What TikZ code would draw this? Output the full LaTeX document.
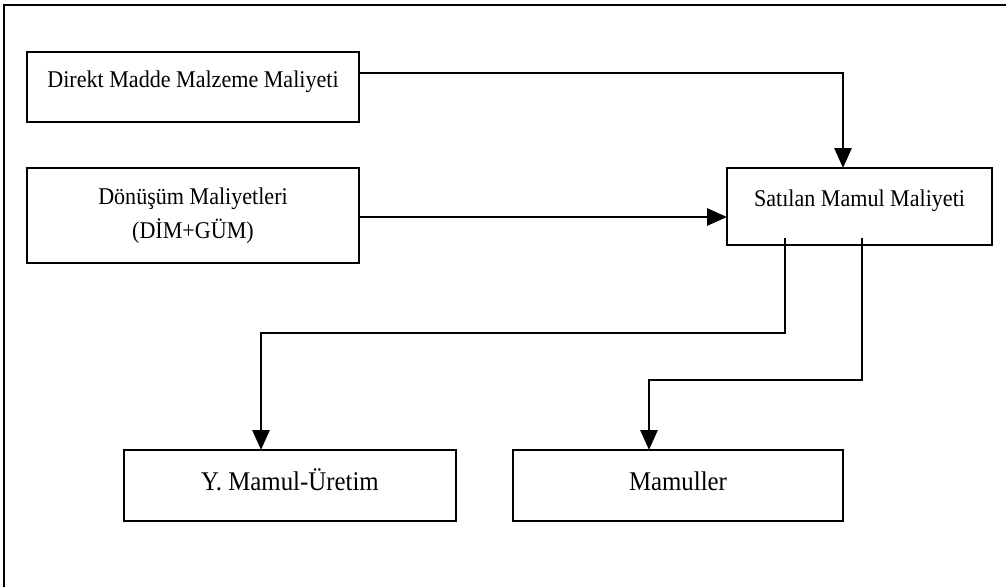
\documentclass[tikz,border=0pt]{standalone}
\usepackage{fontspec}
\setmainfont{Liberation Serif}[FakeStretch=0.92]
\usetikzlibrary{arrows.meta,calc}

\tikzset{
  box/.style={draw, line width=2.6pt, inner sep=0pt, outer sep=0pt,
    font=\fontsize{24}{34}\selectfont, text height=16pt, text depth=16pt},
  lowbox/.style={box, font=\fontsize{27}{34}\selectfont,
    text height=18pt, text depth=9pt},
  flow/.style={line width=2.8pt, -{Triangle[length=20pt,width=17pt]}},
  frame/.style={line width=2.8pt}
}

\begin{document}
\begin{tikzpicture}[x=1pt, y=-1pt]
  \useasboundingbox (0,0) rectangle (1006,587);

  % outer frame (left and top edges)
  \coordinate (fbl) at (4,587);
  \coordinate (ftl) at (4,5);
  \coordinate (ftr) at (1006,5);
  \draw[frame] (fbl) -- (ftl) -- (ftr);

  % cost boxes
  \node[box, minimum width=332pt, minimum height=70pt] (dmm) at (193,87)
    {Direkt Madde Malzeme Maliyeti};
  \node[box, minimum width=332pt, minimum height=95pt, align=center,
        text height=, text depth=] (don) at (193,215.5)
    {Dönüşüm Maliyetleri\\(DİM+GÜM)};
  \node[box, minimum width=265pt, minimum height=77pt] (smm) at (859.5,206.5)
    {Satılan Mamul Maliyeti};
  \node[lowbox, minimum width=332pt, minimum height=71pt] (ymu) at (290,485.5)
    {Y. Mamul-Üretim};
  \node[lowbox, minimum width=330pt, minimum height=71pt] (mam) at (678,485.5)
    {Mamuller};

  % bend points of the connectors
  \coordinate (r1) at (843,73);
  \coordinate (r2) at (0,217);
  \coordinate (d1) at (785,333);
  \coordinate (e1) at (261,333);
  \coordinate (d2) at (862,380);
  \coordinate (e2) at (649,380);

  % inputs into cost of goods sold
  \draw[flow] (dmm.east |- r1) -- (r1) -- (smm.north -| r1);
  \draw[flow] (don.east |- r2) -- (smm.west |- r2);

  % outputs from cost of goods sold
  \draw[flow] ([yshift=7pt]smm.south -| d1) -- (d1) -- (e1) -- (ymu.north -| e1);
  \draw[flow] ([yshift=7pt]smm.south -| d2) -- (d2) -- (e2) -- (mam.north -| e2);
\end{tikzpicture}
\end{document}
